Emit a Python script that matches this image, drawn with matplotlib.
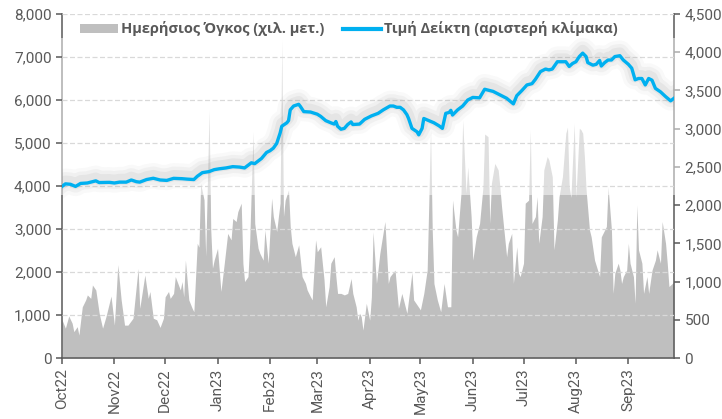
import numpy as np
import pandas as pd
import matplotlib
matplotlib.use("Agg")
import matplotlib.pyplot as plt
import matplotlib.patheffects as pe
from matplotlib.patches import Rectangle, Patch
from matplotlib.lines import Line2D
from matplotlib.ticker import FuncFormatter, MultipleLocator

START = pd.Timestamp("2022-10-03")

# daily volume (thousand shares, right axis) - day offsets from START
vol_days = [0, 2, 4, 6, 7, 9, 10, 12, 14, 15, 17, 18, 20, 22, 24, 26, 29, 31, 33, 35,
            37, 39, 42, 45, 46, 49, 51, 52, 54, 56, 58, 60, 61, 63, 64, 66, 67, 70, 71, 72,
            73, 75, 77, 78, 80, 81, 82, 84, 85, 87, 88, 89, 90, 92, 94, 96, 98, 100, 101, 103,
            104, 106, 107, 108, 110, 111, 113, 114, 116, 117, 119, 120, 122, 124, 125, 127, 128, 129, 130, 131,
            132, 134, 135, 136, 138, 140, 141, 142, 144, 145, 147, 148, 150, 151, 153, 155, 156, 158, 159, 161,
            162, 163, 165, 167, 169, 171, 172, 174, 175, 176, 177, 178, 180, 182, 183, 184, 186, 188, 191, 193,
            194, 197, 199, 201, 202, 204, 207, 208, 210, 212, 214, 216, 218, 219, 220, 222, 224, 226, 228, 230,
            231, 233, 234, 236, 237, 239, 240, 242, 243, 245, 247, 249, 250, 252, 253, 254, 256, 258, 259, 260,
            263, 264, 266, 267, 269, 270, 271, 273, 274, 276, 277, 278, 280, 281, 282, 284, 285, 287, 288, 290,
            291, 293, 294, 296, 298, 299, 300, 301, 303, 304, 306, 307, 308, 309, 310, 312, 313, 315, 318, 319,
            321, 322, 323, 325, 326, 327, 329, 330, 331, 332, 334, 335, 336, 338, 339, 340, 341, 343, 344, 346,
            347, 349, 351, 352, 354, 355, 357, 358, 359, 361, 362]
vol_vals = [500, 390, 550, 455, 345, 410, 300, 670, 760, 825, 780, 955, 890, 585, 390, 540, 810, 430, 1220, 760,
            430, 430, 520, 1170, 650, 1085, 780, 870, 520, 500, 400, 520, 800, 870, 780, 845, 1065, 890, 1000, 800,
            1280, 760, 650, 605, 1500, 1450, 2285, 2070, 1330, 3245, 1675, 1175, 1280, 1435, 870, 1240, 1630, 1545, 1825, 1785,
            1915, 2025, 1240, 1000, 1065, 1500, 2960, 1760, 1435, 1370, 1280, 1675, 1240, 2090, 1850, 1655, 1850, 2025, 4160, 1850,
            2065, 2200, 1720, 1500, 1325, 1480, 1280, 1065, 975, 890, 800, 760, 1545, 1390, 1455, 1020, 670, 935, 1240, 1325,
            1065, 845, 845, 825, 845, 1040, 845, 670, 495, 585, 540, 365, 715, 495, 800, 1650, 975, 1370, 1785, 975,
            1065, 1150, 650, 845, 760, 585, 1120, 760, 695, 630, 845, 1150, 2985, 1675, 975, 760, 605, 975, 670, 670,
            2065, 1675, 1585, 2155, 3115, 2155, 2500, 1850, 1280, 1585, 1760, 2240, 2930, 2895, 1760, 2285, 2545, 2460, 2240, 1980,
            1325, 1500, 1630, 975, 1455, 1110, 1065, 1240, 2025, 2065, 2980, 1760, 1850, 2110, 1500, 1850, 2460, 2635, 2590, 2370,
            1415, 1805, 2110, 2370, 2940, 3020, 2240, 2100, 3070, 2110, 3005, 2985, 2940, 2635, 2200, 1675, 1585, 1280, 1065, 1585,
            1675, 1720, 2240, 1675, 845, 1110, 1240, 1150, 975, 1065, 1150, 1500, 1240, 1065, 715, 2000, 1415, 1240, 845, 1065,
            845, 1150, 1280, 1415, 1240, 1785, 1500, 1240, 935, 975, 1000]

# index level (left axis) - day offsets from START
idx_days = [0, 2, 5, 8, 11, 15, 20, 22, 28, 31, 34, 38, 41, 44, 46, 50, 54, 58, 62, 66,
            71, 74, 78, 80, 83, 87, 90, 93, 97, 101, 105, 108, 110, 112, 114, 116, 118, 121, 123, 125,
            127, 129, 130, 133, 134, 135, 137, 140, 141, 143, 147, 151, 153, 156, 159, 161, 162, 163, 165, 167,
            169, 171, 172, 176, 179, 183, 187, 190, 194, 196, 198, 200, 202, 204, 205, 207, 210, 211, 213, 214,
            217, 220, 223, 225, 227, 229, 230, 231, 234, 237, 240, 243, 247, 250, 253, 255, 259, 263, 267, 269,
            272, 275, 278, 280, 283, 286, 288, 290, 293, 298, 300, 302, 304, 306, 308, 310, 311, 314, 316, 318,
            319, 321, 323, 325, 327, 330, 332, 335, 337, 339, 341, 343, 345, 347, 349, 351, 354, 357, 360, 362]
idx_vals = [3990, 4050, 4040, 3990, 4060, 4070, 4120, 4080, 4085, 4070, 4090, 4090, 4140, 4100, 4090, 4150, 4180, 4140, 4130, 4178,
            4170, 4160, 4150, 4225, 4310, 4335, 4380, 4400, 4420, 4450, 4440, 4420, 4480, 4540, 4520, 4580, 4640, 4780, 4820, 4880,
            4990, 5230, 5390, 5470, 5520, 5770, 5860, 5900, 5850, 5730, 5720, 5670, 5620, 5520, 5470, 5440, 5500, 5390, 5320, 5340,
            5430, 5490, 5430, 5440, 5550, 5630, 5690, 5770, 5860, 5860, 5830, 5830, 5770, 5660, 5570, 5340, 5260, 5190, 5340, 5570,
            5520, 5470, 5400, 5340, 5690, 5710, 5760, 5650, 5770, 5860, 6000, 6060, 6050, 6250, 6220, 6200, 6120, 6040, 5910, 6100,
            6220, 6350, 6380, 6480, 6660, 6720, 6700, 6720, 6890, 6890, 6780, 6850, 6890, 7010, 7090, 7010, 6870, 6810, 6830, 6920,
            6790, 6870, 6930, 6930, 7010, 7030, 6930, 6830, 6740, 6470, 6500, 6500, 6350, 6500, 6460, 6270, 6190, 6080, 5980, 6040]

month_labels = ["Oct22", "Nov22", "Dec22", "Jan23", "Feb23", "Mar23",
                "Apr23", "May23", "Jun23", "Jul23", "Aug23", "Sep23"]

vol_dates = START + pd.to_timedelta(vol_days, unit="D")
idx_dates = START + pd.to_timedelta(idx_days, unit="D")

TXT = "#595959"
GREY = "#BFBFBF"
BLUE = "#00B0F0"
plt.rcParams["font.family"] = ["Roboto", "DejaVu Sans"]

W, H = 722, 419
fig = plt.figure(figsize=(W / 100, H / 100), dpi=100)
ax = fig.add_axes([62 / W, (H - 358) / H, 612 / W, 344 / H])
ax2 = ax.twinx()
ax.set_zorder(2)
ax.patch.set_visible(False)

# volume area (right scale)
ax2.fill_between(vol_dates, vol_vals, 0, color=GREY, lw=0)
ax2.set_ylim(0, 4500)
ax2.yaxis.set_major_locator(MultipleLocator(500))
ax2.yaxis.set_major_formatter(FuncFormatter(lambda v, p: f"{v:,.0f}"))

# index line (left scale) with soft shadow
shadow = [pe.Stroke(linewidth=w, foreground="#8f8f8f", alpha=a, offset=(0, 2))
          for w, a in [(18, 0.05), (13, 0.08), (8, 0.11)]]
ax.plot(idx_dates, idx_vals, color=BLUE, lw=2.4, zorder=3,
        solid_joinstyle="round", path_effects=shadow + [pe.Normal()])
ax.set_ylim(0, 8000)
ax.yaxis.set_major_locator(MultipleLocator(1000))
ax.yaxis.set_major_formatter(FuncFormatter(lambda v, p: f"{v:,.0f}"))
ax.yaxis.grid(True, color="#D9D9D9", linestyle=(0, (4, 2)), lw=0.9)
ax.set_axisbelow("line")

# whitish band over the upper part of the area
ax.add_patch(Rectangle((60 / W, (H - 195) / H), 621 / W, 157 / H,
                       transform=fig.transFigure, facecolor="white", alpha=0.5,
                       lw=0, zorder=1.2, clip_on=False))

ticks = pd.date_range(START, periods=12, freq=pd.DateOffset(months=1))
ax.set_xlim(START, START + pd.Timedelta(days=362))
ax.set_xticks(ticks)
ax.set_xticklabels(month_labels, rotation=90)

for s in ["top", "left", "right"]:
    ax.spines[s].set_visible(False)
ax2.spines["top"].set_visible(False)
ax2.spines["bottom"].set_visible(False)
for s in ["left", "right"]:
    ax2.spines[s].set_visible(True)
    ax2.spines[s].set_color(TXT)
    ax2.spines[s].set_linewidth(1.1)
ax.spines["bottom"].set_color(TXT)
ax.spines["bottom"].set_linewidth(1.1)

ax.tick_params(axis="both", colors=TXT, labelcolor=TXT, labelsize=11, length=4, width=1.1)
ax2.tick_params(axis="y", colors=TXT, labelcolor=TXT, labelsize=11, length=4, width=1.1)

handles = [Patch(facecolor=GREY, edgecolor="none"),
           Line2D([], [], color=BLUE, lw=3)]
labels = ["Ημερήσιος Όγκος (χιλ. μετ.)", "Τιμή Δείκτη (αριστερή κλίμακα)"]
leg = ax.legend(handles, labels, loc="center left", bbox_to_anchor=(80 / W, (H - 29) / H),
                bbox_transform=fig.transFigure, ncol=2, frameon=False,
                handlelength=2.6, handleheight=0.6, handletextpad=0.2, columnspacing=1.3,
                borderaxespad=0, borderpad=0,
                prop={"family": ["Open Sans", "DejaVu Sans"], "weight": "bold", "size": 10.5})
for t in leg.get_texts():
    t.set_color(TXT)

fig.savefig("out.png", dpi=100)
